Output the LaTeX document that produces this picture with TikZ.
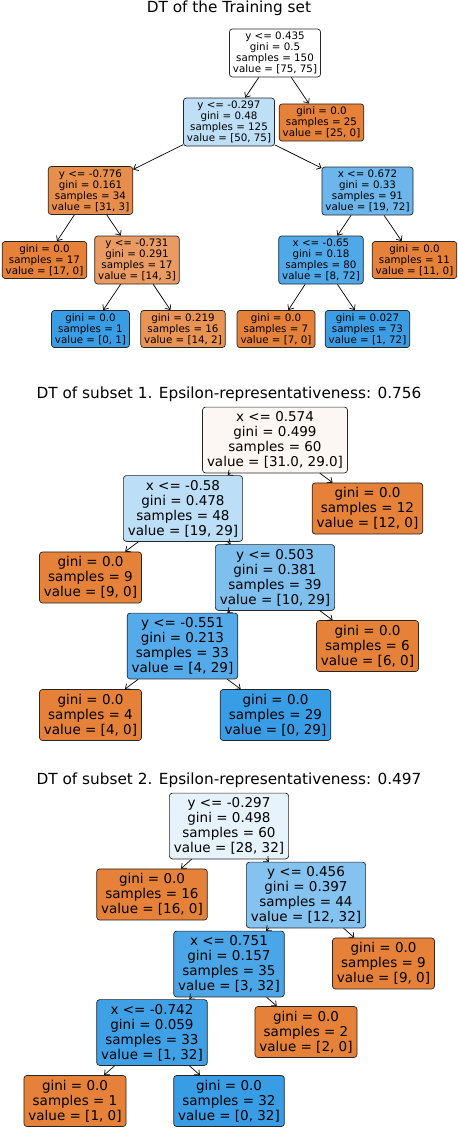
\documentclass[tikz,border=0pt]{standalone}
\usepackage{fontspec}
\setmainfont{DejaVu Sans}
\usepackage{xcolor}
\usetikzlibrary{arrows.meta}
\definecolor{classorange}{RGB}{229,129,57}
\definecolor{classblue}{RGB}{57,157,229}

\tikzset{
  treenode/.style={draw=black!85, line width=0.7pt, rounded corners=3pt, align=center},
  bigtree/.style={font=\fontsize{13.5}{15}\selectfont, inner xsep=4.5pt, inner ysep=4.5pt},
  smalltree/.style={font=\fontsize{10.3}{11}\selectfont, inner xsep=3.5pt, inner ysep=3pt},
  plottitle/.style={font=\fontsize{15.3}{18}\selectfont, anchor=base},
  treearrow/.style={-{Straight Barb[length=4pt,width=7pt]}, line width=0.7pt}
}

\begin{document}
\begin{tikzpicture}[x=1pt, y=-1pt]
    \useasboundingbox (0,0) rectangle (458,1128);

    % Training set tree
    \node[plottitle] (title0) at (229,12.3) {DT of the Training set};
    \node[treenode, smalltree, fill=white] (t0) at (275,53) {y <= 0.435\\gini = 0.5\\samples = 150\\value = [75, 75]};
    \node[treenode, smalltree, fill=classblue!33] (t1) at (229,122) {y <= -0.297\\gini = 0.48\\samples = 125\\value = [50, 75]};
    \node[treenode, smalltree, fill=classorange] (t2) at (321.5,122.5) {gini = 0.0\\samples = 25\\value = [25, 0]};
    \node[treenode, smalltree, fill=classorange!90] (t3) at (90.5,190.5) {y <= -0.776\\gini = 0.161\\samples = 34\\value = [31, 3]};
    \node[treenode, smalltree, fill=classblue!74] (t4) at (367.5,191) {x <= 0.672\\gini = 0.33\\samples = 91\\value = [19, 72]};
    \node[treenode, smalltree, fill=classorange] (t5) at (44.5,260) {gini = 0.0\\samples = 17\\value = [17, 0]};
    \node[treenode, smalltree, fill=classorange!79] (t6) at (137,260) {y <= -0.731\\gini = 0.291\\samples = 17\\value = [14, 3]};
    \node[treenode, smalltree, fill=classblue!89] (t7) at (321,260) {x <= -0.65\\gini = 0.18\\samples = 80\\value = [8, 72]};
    \node[treenode, smalltree, fill=classorange] (t8) at (414.5,260) {gini = 0.0\\samples = 11\\value = [11, 0]};
    \node[treenode, smalltree, fill=classblue] (t9) at (90.5,329) {gini = 0.0\\samples = 1\\value = [0, 1]};
    \node[treenode, smalltree, fill=classorange!86] (t10) at (183,329) {gini = 0.219\\samples = 16\\value = [14, 2]};
    \node[treenode, smalltree, fill=classorange] (t11) at (276,329) {gini = 0.0\\samples = 7\\value = [7, 0]};
    \node[treenode, smalltree, fill=classblue!99] (t12) at (367.5,329) {gini = 0.027\\samples = 73\\value = [1, 72]};

    \draw[treearrow] (t0) -- (t1);
    \draw[treearrow] (t0) -- (t2);
    \draw[treearrow] (t1) -- (t3);
    \draw[treearrow] (t1) -- (t4);
    \draw[treearrow] (t3) -- (t5);
    \draw[treearrow] (t3) -- (t6);
    \draw[treearrow] (t4) -- (t7);
    \draw[treearrow] (t4) -- (t8);
    \draw[treearrow] (t6) -- (t9);
    \draw[treearrow] (t6) -- (t10);
    \draw[treearrow] (t7) -- (t11);
    \draw[treearrow] (t7) -- (t12);

    % Subset 1 tree
    \node[plottitle] (title1) at (229,398.3) {DT of subset 1. Epsilon-representativeness: 0.756};
    \node[treenode, bigtree, fill=classorange!6] (a0) at (275,440) {x <= 0.574\\gini = 0.499\\samples = 60\\value = [31.0, 29.0]};
    \node[treenode, bigtree, fill=classblue!34] (a1) at (183,508.5) {x <= -0.58\\gini = 0.478\\samples = 48\\value = [19, 29]};
    \node[treenode, bigtree, fill=classorange] (a2) at (367.5,508.5) {gini = 0.0\\samples = 12\\value = [12, 0]};
    \node[treenode, bigtree, fill=classorange] (a3) at (90.5,577.5) {gini = 0.0\\samples = 9\\value = [9, 0]};
    \node[treenode, bigtree, fill=classblue!65] (a4) at (275,577.5) {y <= 0.503\\gini = 0.381\\samples = 39\\value = [10, 29]};
    \node[treenode, bigtree, fill=classblue!86] (a5) at (182.5,646) {y <= -0.551\\gini = 0.213\\samples = 33\\value = [4, 29]};
    \node[treenode, bigtree, fill=classorange] (a6) at (367.5,646) {gini = 0.0\\samples = 6\\value = [6, 0]};
    \node[treenode, bigtree, fill=classorange] (a7) at (90.5,715) {gini = 0.0\\samples = 4\\value = [4, 0]};
    \node[treenode, bigtree, fill=classblue] (a8) at (275.5,715) {gini = 0.0\\samples = 29\\value = [0, 29]};

    \draw[treearrow] (a0) -- (a1);
    \draw[treearrow] (a0) -- (a2);
    \draw[treearrow] (a1) -- (a3);
    \draw[treearrow] (a1) -- (a4);
    \draw[treearrow] (a4) -- (a5);
    \draw[treearrow] (a4) -- (a6);
    \draw[treearrow] (a5) -- (a7);
    \draw[treearrow] (a5) -- (a8);

    % Subset 2 tree
    \node[plottitle] (title2) at (229,784) {DT of subset 2. Epsilon-representativeness: 0.497};
    \node[treenode, bigtree, fill=classblue!12] (b0) at (229,826) {y <= -0.297\\gini = 0.498\\samples = 60\\value = [28, 32]};
    \node[treenode, bigtree, fill=classorange] (b1) at (152,894.5) {gini = 0.0\\samples = 16\\value = [16, 0]};
    \node[treenode, bigtree, fill=classblue!62] (b2) at (306,895) {y <= 0.456\\gini = 0.397\\samples = 44\\value = [12, 32]};
    \node[treenode, bigtree, fill=classblue!91] (b3) at (229,964) {x <= 0.751\\gini = 0.157\\samples = 35\\value = [3, 32]};
    \node[treenode, bigtree, fill=classorange] (b4) at (383.5,963.5) {gini = 0.0\\samples = 9\\value = [9, 0]};
    \node[treenode, bigtree, fill=classblue!97] (b5) at (152,1032.5) {x <= -0.742\\gini = 0.059\\samples = 33\\value = [1, 32]};
    \node[treenode, bigtree, fill=classorange] (b6) at (306,1032) {gini = 0.0\\samples = 2\\value = [2, 0]};
    \node[treenode, bigtree, fill=classorange] (b7) at (75,1101) {gini = 0.0\\samples = 1\\value = [1, 0]};
    \node[treenode, bigtree, fill=classblue] (b8) at (229,1101) {gini = 0.0\\samples = 32\\value = [0, 32]};

    \draw[treearrow] (b0) -- (b1);
    \draw[treearrow] (b0) -- (b2);
    \draw[treearrow] (b2) -- (b3);
    \draw[treearrow] (b2) -- (b4);
    \draw[treearrow] (b3) -- (b5);
    \draw[treearrow] (b3) -- (b6);
    \draw[treearrow] (b5) -- (b7);
    \draw[treearrow] (b5) -- (b8);
\end{tikzpicture}
\end{document}
